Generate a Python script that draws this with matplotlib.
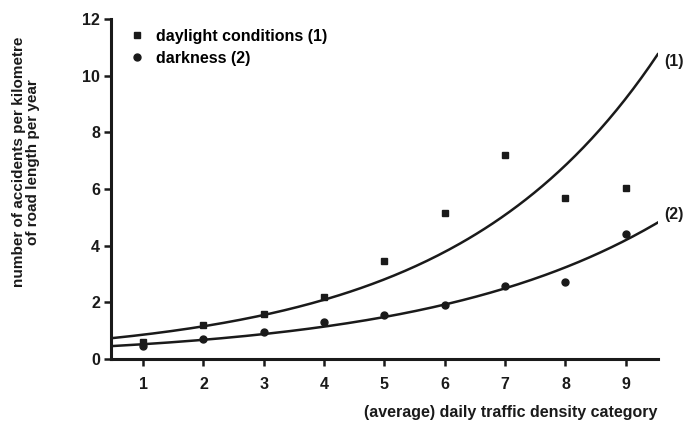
import numpy as np
import matplotlib
matplotlib.use('Agg')
import matplotlib.pyplot as plt

# Data
category = [1, 2, 3, 4, 5, 6, 7, 8, 9]
daylight = [0.6, 1.2, 1.6, 2.2, 3.46, 5.15, 7.2, 5.68, 6.03]
darkness = [0.45, 0.7, 0.95, 1.3, 1.55, 1.9, 2.58, 2.72, 4.41]

x_min, x_max = 0.47, 9.53

plt.rcParams['font.family'] = ['Liberation Sans', 'DejaVu Sans']
plt.rcParams['font.weight'] = 'bold'

fig = plt.figure(figsize=(6.99, 4.24), dpi=100)
ax = fig.add_axes([0.159, 0.153, 0.782, 0.802])

ink = '#1a1a1a'
fs = 11.5

# exponential trend lines fitted to the points (log-linear fit)
xs = np.linspace(x_min, x_max, 200)
for ys in (daylight, darkness):
    b, ln_a = np.polyfit(category, np.log(ys), 1)
    ax.plot(xs, np.exp(ln_a + b * xs), color=ink, lw=1.8, zorder=2)

ax.plot(category, daylight, ls='none', marker='s', ms=5, color=ink,
        label='daylight conditions (1)', zorder=3)
ax.plot(category, darkness, ls='none', marker='o', ms=5, color=ink,
        label='darkness (2)', zorder=3)

ax.text(9.64, 10.5, '(1)', fontsize=fs, va='center', ha='left', color=ink)
ax.text(9.64, 5.1, '(2)', fontsize=fs, va='center', ha='left', color=ink)

ax.set_xlim(x_min, x_max)
ax.set_ylim(0, 12)
ax.set_xticks(category)
ax.set_yticks([0, 2, 4, 6, 8, 10, 12])

for s in ['top', 'right']:
    ax.spines[s].set_visible(False)
for s in ['left', 'bottom']:
    ax.spines[s].set_linewidth(2.2)
    ax.spines[s].set_color(ink)
ax.tick_params(width=1.8, length=5, labelsize=fs, colors=ink)
ax.tick_params(axis='x', pad=8)
ax.tick_params(axis='y', pad=3)

ax.set_xlabel('(average) daily traffic density category', fontsize=fs,
              color=ink, ha='right', fontweight='bold')
ax.xaxis.set_label_coords(1.0, -0.135)
ax.set_ylabel('number of accidents per kilometre\nof road length per year',
              fontsize=11, color=ink, linespacing=1.0, fontweight='bold')
ax.yaxis.set_label_coords(-0.13, 0.58)

ax.legend(loc='upper left', bbox_to_anchor=(0.015, 1.0), frameon=False,
          fontsize=fs, handletextpad=0.7, labelspacing=0.45,
          handlelength=1.0, borderaxespad=0.2)

fig.savefig('out.png', dpi=100)
